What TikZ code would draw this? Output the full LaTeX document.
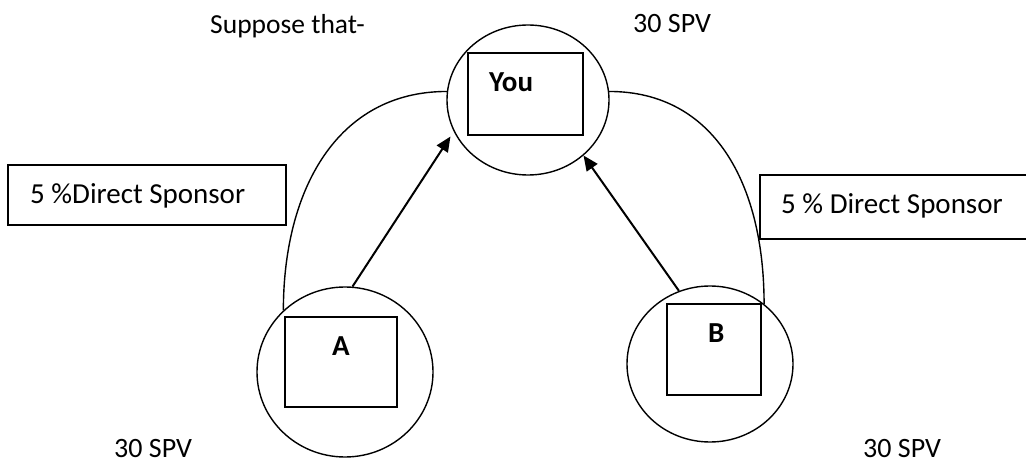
\documentclass[tikz,border=0pt]{standalone}
\usepackage{fontspec}
\setmainfont{Carlito}
\usetikzlibrary{shapes.geometric,arrows.meta,positioning}
\begin{document}
\begin{tikzpicture}[x=1pt, y=-1pt,
      font=\fontsize{28}{32}\selectfont,
      member/.style={draw, ellipse, line width=1.4pt, inner sep=0pt},
      card/.style={draw, rectangle, line width=2pt, inner sep=0pt},
      bonus/.style={draw, rectangle, line width=1.6pt, inner sep=0pt},
      tag/.style={anchor=base west, inner sep=0pt},
      initial/.style={tag, font=\fontsize{29}{33}\selectfont\bfseries},
      push/.style={-{Triangle[length=15pt,width=13pt]}, line width=2pt}]
      \useasboundingbox (0,0) rectangle (1026,462);
      \clip (0,0) rectangle (1026,462);
      % members
      \node[member, minimum width=162pt, minimum height=150pt] (You) at (528,100) {};
      \node[member, minimum width=176pt, minimum height=170pt] (A) at (345,372) {};
      \node[member, minimum width=166pt, minimum height=156pt] (B) at (710,364) {};
      \node[card, minimum width=115pt, minimum height=82pt] (YouBox) at (525.5,94) {};
      \node[card, minimum width=112pt, minimum height=90pt] (ABox) at (341,362) {};
      \node[card, minimum width=94pt, minimum height=91pt] (BBox) at (714,349.5) {};
      \node[initial] (YouName) at (489,92) {You};
      \node[initial] (AName) at (332,356) {A};
      \node[initial] (BName) at (708,343) {B};
      % bonus boxes
      \node[bonus, minimum width=278pt, minimum height=60pt] (LeftBonus) at (147,195) {};
      \node[tag, font=\fontsize{29}{33}\selectfont] (LeftBonusText) at (30,204) {5 \%Direct Sponsor};
      \node[bonus, minimum width=280pt, minimum height=64pt] (RightBonus) at (900,207) {};
      \node[tag, font=\fontsize{29}{33}\selectfont] (RightBonusText) at (781,214) {5 \% Direct Sponsor};
      % texts
      \node[tag, font=\fontsize{27.5}{31}\selectfont] (Intro) at (210,34) {Suppose that-};
      \node[tag] (YouSPV) at (633,33) {30 SPV};
      \node[tag] (ASPV) at (114,457) {30 SPV};
      \node[tag] (BSPV) at (863,457) {30 SPV};
      % legs
      \draw[line width=1.4pt] (You.174) .. controls +(-110,0) and +(0,-120) .. (A.135);
      \draw[line width=1.4pt] (You.6) .. controls +(105,0) and +(0,-120) .. (B.48);
      \draw[push, shorten >=6pt] (A.85) -- (You.203);
      \draw[push] (B.113) -- (You.315);
\end{tikzpicture}
\end{document}
